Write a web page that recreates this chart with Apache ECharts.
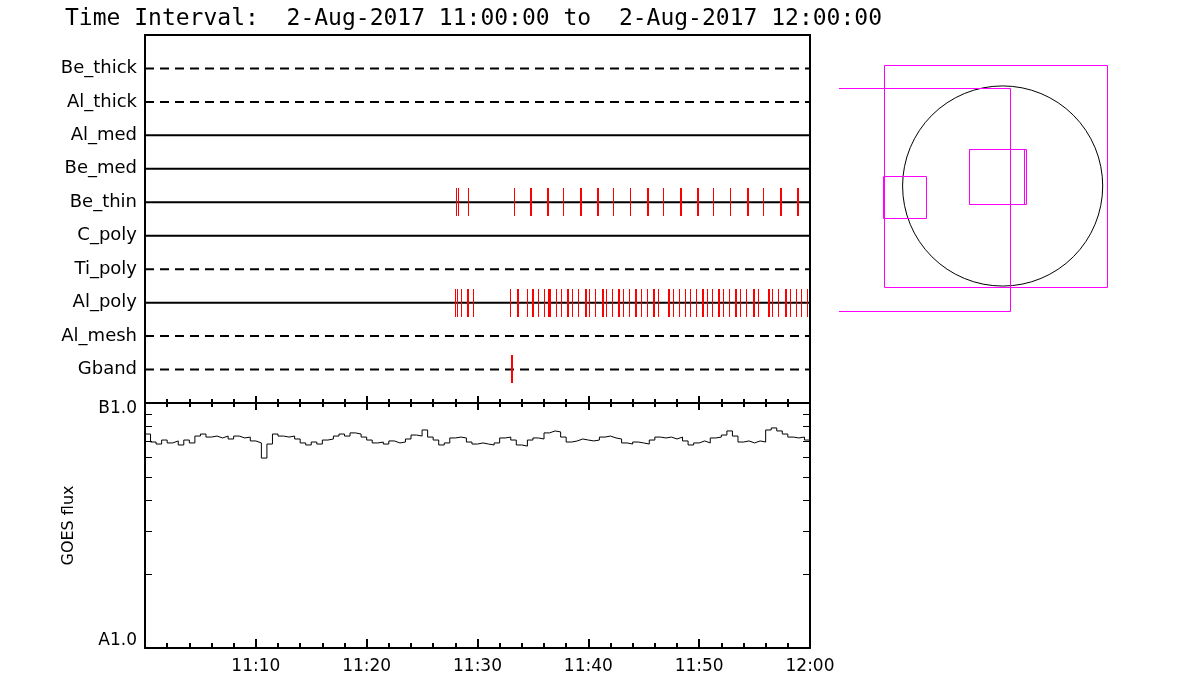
<!DOCTYPE html>
<html>
<head>
<meta charset="utf-8">
<script src="https://cdn.jsdelivr.net/npm/echarts@6/dist/echarts.min.js"></script>
<style>
  html, body { margin: 0; padding: 0; background: #fff; }
  #main { width: 1200px; height: 700px; }
</style>
</head>
<body>
<div id="main"></div>
<script>
// filter wheel rows, top to bottom
const filterNames = ['Be_thick', 'Al_thick', 'Al_med', 'Be_med', 'Be_thin', 'C_poly', 'Ti_poly', 'Al_poly', 'Al_mesh', 'Gband'];
const activeFilters = ['Al_med', 'Be_med', 'Be_thin', 'C_poly', 'Al_poly'];
const timeRange = ['11:00:00', '12:00:00'];
const timeTicks = ['11:10', '11:20', '11:30', '11:40', '11:50', '12:00'];

// exposure times per filter
const beThinTimes = ['11:28:04', '11:28:13', '11:29:10', '11:33:17', '11:34:44', '11:34:49',
  '11:36:14', '11:36:19', '11:37:44', '11:39:15', '11:39:20', '11:40:45', '11:40:50',
  '11:42:15', '11:43:46', '11:45:16', '11:45:25', '11:46:46', '11:48:16', '11:48:21',
  '11:49:47', '11:49:52', '11:51:17', '11:52:47', '11:54:17', '11:54:26', '11:55:47',
  '11:57:17', '11:57:22', '11:58:48', '11:58:53'];
const alPolyTimes = ['11:27:58', '11:28:07', '11:28:31', '11:29:02', '11:29:07', '11:29:37',
  '11:32:56', '11:33:32', '11:33:37', '11:34:29', '11:34:57', '11:35:02', '11:35:29',
  '11:36:02', '11:36:24', '11:36:29', '11:36:34', '11:37:04', '11:37:34', '11:38:03',
  '11:38:08', '11:38:33', '11:39:04', '11:39:40', '11:39:45', '11:40:05', '11:40:36',
  '11:41:13', '11:41:18', '11:41:35', '11:42:07', '11:42:39', '11:42:44', '11:43:10',
  '11:43:40', '11:44:11', '11:44:16', '11:44:47', '11:45:19', '11:45:49', '11:45:54',
  '11:46:19', '11:47:10', '11:47:15', '11:47:40', '11:48:09', '11:48:41', '11:48:46',
  '11:49:10', '11:49:41', '11:50:14', '11:50:19', '11:50:41', '11:51:10', '11:51:40',
  '11:51:45', '11:52:11', '11:52:40', '11:53:13', '11:53:18', '11:53:41', '11:54:14',
  '11:54:50', '11:54:55', '11:55:20', '11:56:11', '11:56:16', '11:56:36', '11:57:08',
  '11:57:43', '11:57:48', '11:58:12', '11:58:43', '11:59:11', '11:59:42'];
const gbandTimes = ['11:33:04', '11:33:09'];

// GOES flux, A-class units (1e-8 W/m^2), 30 s cadence from 11:00:00
const goesStart = '11:00:00';
const goesCadenceSec = 30;
const goesFlux = [
  7.47, 6.93, 6.80, 7.06, 6.87, 7.00, 6.74, 7.06, 6.87, 7.33,
  7.47, 7.26, 7.33, 7.20, 7.33, 7.13, 7.33, 7.20, 7.26, 7.00,
  6.87, 5.96, 6.80, 7.47, 7.33, 7.26, 7.33, 7.13, 6.87, 6.74,
  6.93, 6.80, 7.06, 7.13, 7.33, 7.47, 7.33, 7.55, 7.47, 7.26,
  7.06, 6.87, 6.93, 6.80, 7.00, 6.87, 6.93, 7.13, 7.40, 7.33,
  7.76, 7.26, 7.06, 6.74, 6.87, 7.20, 7.26, 7.20, 6.93, 6.80,
  6.87, 6.80, 6.74, 6.87, 7.20, 7.26, 7.06, 6.74, 6.67, 7.06,
  7.20, 7.13, 7.55, 7.69, 7.62, 7.26, 6.93, 7.00, 7.13, 7.06,
  7.00, 7.06, 7.26, 7.33, 7.20, 7.13, 6.87, 6.80, 6.93, 6.87,
  6.80, 7.06, 7.26, 7.20, 7.26, 7.13, 7.26, 7.00, 6.74, 6.87,
  7.00, 6.87, 7.20, 7.26, 7.40, 7.69, 7.33, 6.93, 7.00, 6.87,
  7.00, 6.93, 7.76, 7.91, 7.69, 7.47, 7.26, 7.20, 7.26, 7.06,
  7.20
];
const fluxLabels = ['A1.0', 'B1.0'];

// field of view panel (arcsec)
const solarDisk = [[0, 0, 960]];
const fovBoxes = [
  [-1137, -970, 1004, 1159],
  [-1900, -1203, 73, 938],
  [-1146, -310, -739, 93],
  [-326, -170, 202, 358],
  [-326, -173, 221, 355]
];

function toMin(t) {
  const p = t.split(':').map(Number);
  return (p[0] - 11) * 60 + p[1] + (p[2] || 0) / 60;
}
const t0 = toMin(timeRange[0]), t1 = toMin(timeRange[1]);
const FONT = 'DejaVu Sans';
const tickLabelSet = timeTicks.map(toMin);

function fmtTime(v) {
  const total = 11 * 60 + v;
  const h = Math.floor(total / 60), m = Math.round(total % 60);
  return h + ':' + (m < 10 ? '0' + m : m);
}

const chart = echarts.init(document.getElementById('main'));

function tickSeries(name, times) {
  const row = filterNames.indexOf(name) + 1;
  return {
    type: 'custom',
    xAxisIndex: 0, yAxisIndex: 0,
    z: 5,
    data: times.map(t => [toMin(t), row]),
    renderItem: function (params, api) {
      const c = api.coord([api.value(0), api.value(1)]);
      const h = api.size([0, 0.42])[1];
      return {
        type: 'rect',
        shape: { x: Math.round(c[0]), y: Math.round(c[1] - h), width: 1, height: Math.round(2 * h) },
        style: { fill: '#ff0000' }
      };
    }
  };
}

const rowLines = filterNames.map((name, i) => ({
  type: 'line',
  xAxisIndex: 0, yAxisIndex: 0,
  symbol: 'none',
  silent: true,
  data: [[t0, i + 1], [t1, i + 1]],
  lineStyle: {
    color: '#000', width: 2,
    type: activeFilters.includes(name) ? 'solid' : [9, 6]
  }
}));

const goesStartMin = toMin(goesStart);
const goesData = goesFlux.map((f, i) => [goesStartMin + i * goesCadenceSec / 60, Math.log10(f)]);
const logTicks = [1, 2, 3, 4, 5, 6, 7, 8, 9, 10].map(Math.log10);

const axisLine = { show: true, onZero: false, lineStyle: { color: '#000', width: 2 } };
const timeAxisBase = {
  type: 'value', min: t0, max: t1, interval: 10,
  axisLine: axisLine,
  splitLine: { show: false },
  axisTick: { show: true, inside: true, length: 7, lineStyle: { color: '#000', width: 2 } },
  minorTick: { show: true, splitNumber: 5, length: 4, lineStyle: { color: '#000', width: 2 } },
  axisLabel: { show: false }
};

const option = {
  animation: false,
  backgroundColor: '#fff',
  title: {
    text: 'Time Interval:  2-Aug-2017 11:00:00 to  2-Aug-2017 12:00:00',
    left: 60, top: 3,
    textStyle: { fontFamily: 'DejaVu Sans Mono', fontSize: 23, fontWeight: 'normal', color: '#000' }
  },
  grid: [
    { left: 145, top: 35, width: 665, height: 368 },
    { left: 145, top: 403, width: 665, height: 245 },
    { left: 839, top: 60, width: 271, height: 260 }
  ],
  xAxis: [
    Object.assign({}, timeAxisBase, { gridIndex: 0, position: 'bottom' }),
    { type: 'value', gridIndex: 0, position: 'top', min: t0, max: t1,
      axisLine: axisLine, axisTick: { show: false }, axisLabel: { show: false }, splitLine: { show: false } },
    Object.assign({}, timeAxisBase, {
      gridIndex: 1, position: 'bottom',
      axisTick: { show: true, inside: true, length: 9, lineStyle: { color: '#000', width: 2 } },
      minorTick: { show: true, splitNumber: 5, length: 5, lineStyle: { color: '#000', width: 2 } },
      axisLabel: {
        show: true, margin: 10, fontFamily: FONT, fontSize: 17, color: '#000',
        customValues: tickLabelSet, formatter: fmtTime
      }
    }),
    Object.assign({}, timeAxisBase, { gridIndex: 1, position: 'top' }),
    { type: 'value', gridIndex: 2, min: -1570, max: 1030, show: false }
  ],
  yAxis: [
    {
      type: 'value', gridIndex: 0, min: 0, max: 11, inverse: true,
      axisLine: axisLine, axisTick: { show: false }, splitLine: { show: false },
      axisLabel: {
        margin: 8, fontFamily: FONT, fontSize: 18, color: '#000',
        padding: [4, 0, 0, 0],
        customValues: filterNames.map((n, i) => i + 1),
        formatter: v => filterNames[v - 1]
      }
    },
    { type: 'value', gridIndex: 0, position: 'right', min: 0, max: 11,
      axisLine: axisLine, axisTick: { show: false }, axisLabel: { show: false }, splitLine: { show: false } },
    {
      type: 'value', gridIndex: 1, min: 0, max: 1,
      name: 'GOES flux', nameLocation: 'middle', nameGap: 68,
      nameTextStyle: { fontFamily: FONT, fontSize: 16, color: '#000' },
      axisLine: axisLine, splitLine: { show: false },
      axisTick: { show: true, inside: true, length: 7, customValues: logTicks, lineStyle: { color: '#000', width: 1 } },
      axisLabel: {
        margin: 8, fontFamily: FONT, fontSize: 17, color: '#000',
        customValues: [0, 1],
        formatter: v => (v > 0.5 ? '{hi|' : '{lo|') + fluxLabels[Math.round(v)] + '}',
        rich: {
          hi: { fontFamily: FONT, fontSize: 17, color: '#000', padding: [11, 0, 0, 0] },
          lo: { fontFamily: FONT, fontSize: 17, color: '#000', padding: [0, 0, 15, 0] }
        }
      }
    },
    {
      type: 'value', gridIndex: 1, position: 'right', min: 0, max: 1,
      axisLine: axisLine, splitLine: { show: false }, axisLabel: { show: false },
      axisTick: { show: true, inside: true, length: 7, customValues: logTicks, lineStyle: { color: '#000', width: 1 } }
    },
    { type: 'value', gridIndex: 2, min: -1286, max: 1209, show: false }
  ],
  series: rowLines.concat([
    tickSeries('Be_thin', beThinTimes),
    tickSeries('Al_poly', alPolyTimes),
    tickSeries('Gband', gbandTimes),
    {
      type: 'line',
      xAxisIndex: 2, yAxisIndex: 2,
      symbol: 'none',
      step: 'end',
      data: goesData,
      lineStyle: { color: '#000', width: 1 }
    },
    {
      type: 'custom',
      xAxisIndex: 4, yAxisIndex: 4,
      data: solarDisk,
      renderItem: function (params, api) {
        const c = api.coord([api.value(0), api.value(1)]);
        const r = api.size([api.value(2), 0])[0];
        return { type: 'circle', shape: { cx: c[0], cy: c[1], r: r }, style: { fill: 'none', stroke: '#000', lineWidth: 1 } };
      }
    },
    {
      type: 'custom',
      xAxisIndex: 4, yAxisIndex: 4,
      clip: true,
      data: fovBoxes,
      renderItem: function (params, api) {
        const p0 = api.coord([api.value(0), api.value(3)]);
        const p1 = api.coord([api.value(2), api.value(1)]);
        const x = Math.round(p0[0]) + 0.5, y = Math.round(p0[1]) + 0.5;
        return {
          type: 'rect',
          shape: { x: x, y: y, width: Math.round(p1[0]) - Math.round(p0[0]), height: Math.round(p1[1]) - Math.round(p0[1]) },
          style: { fill: 'none', stroke: '#ff00ff', lineWidth: 1 }
        };
      }
    }
  ])
};

chart.setOption(option);
</script>
</body>
</html>
